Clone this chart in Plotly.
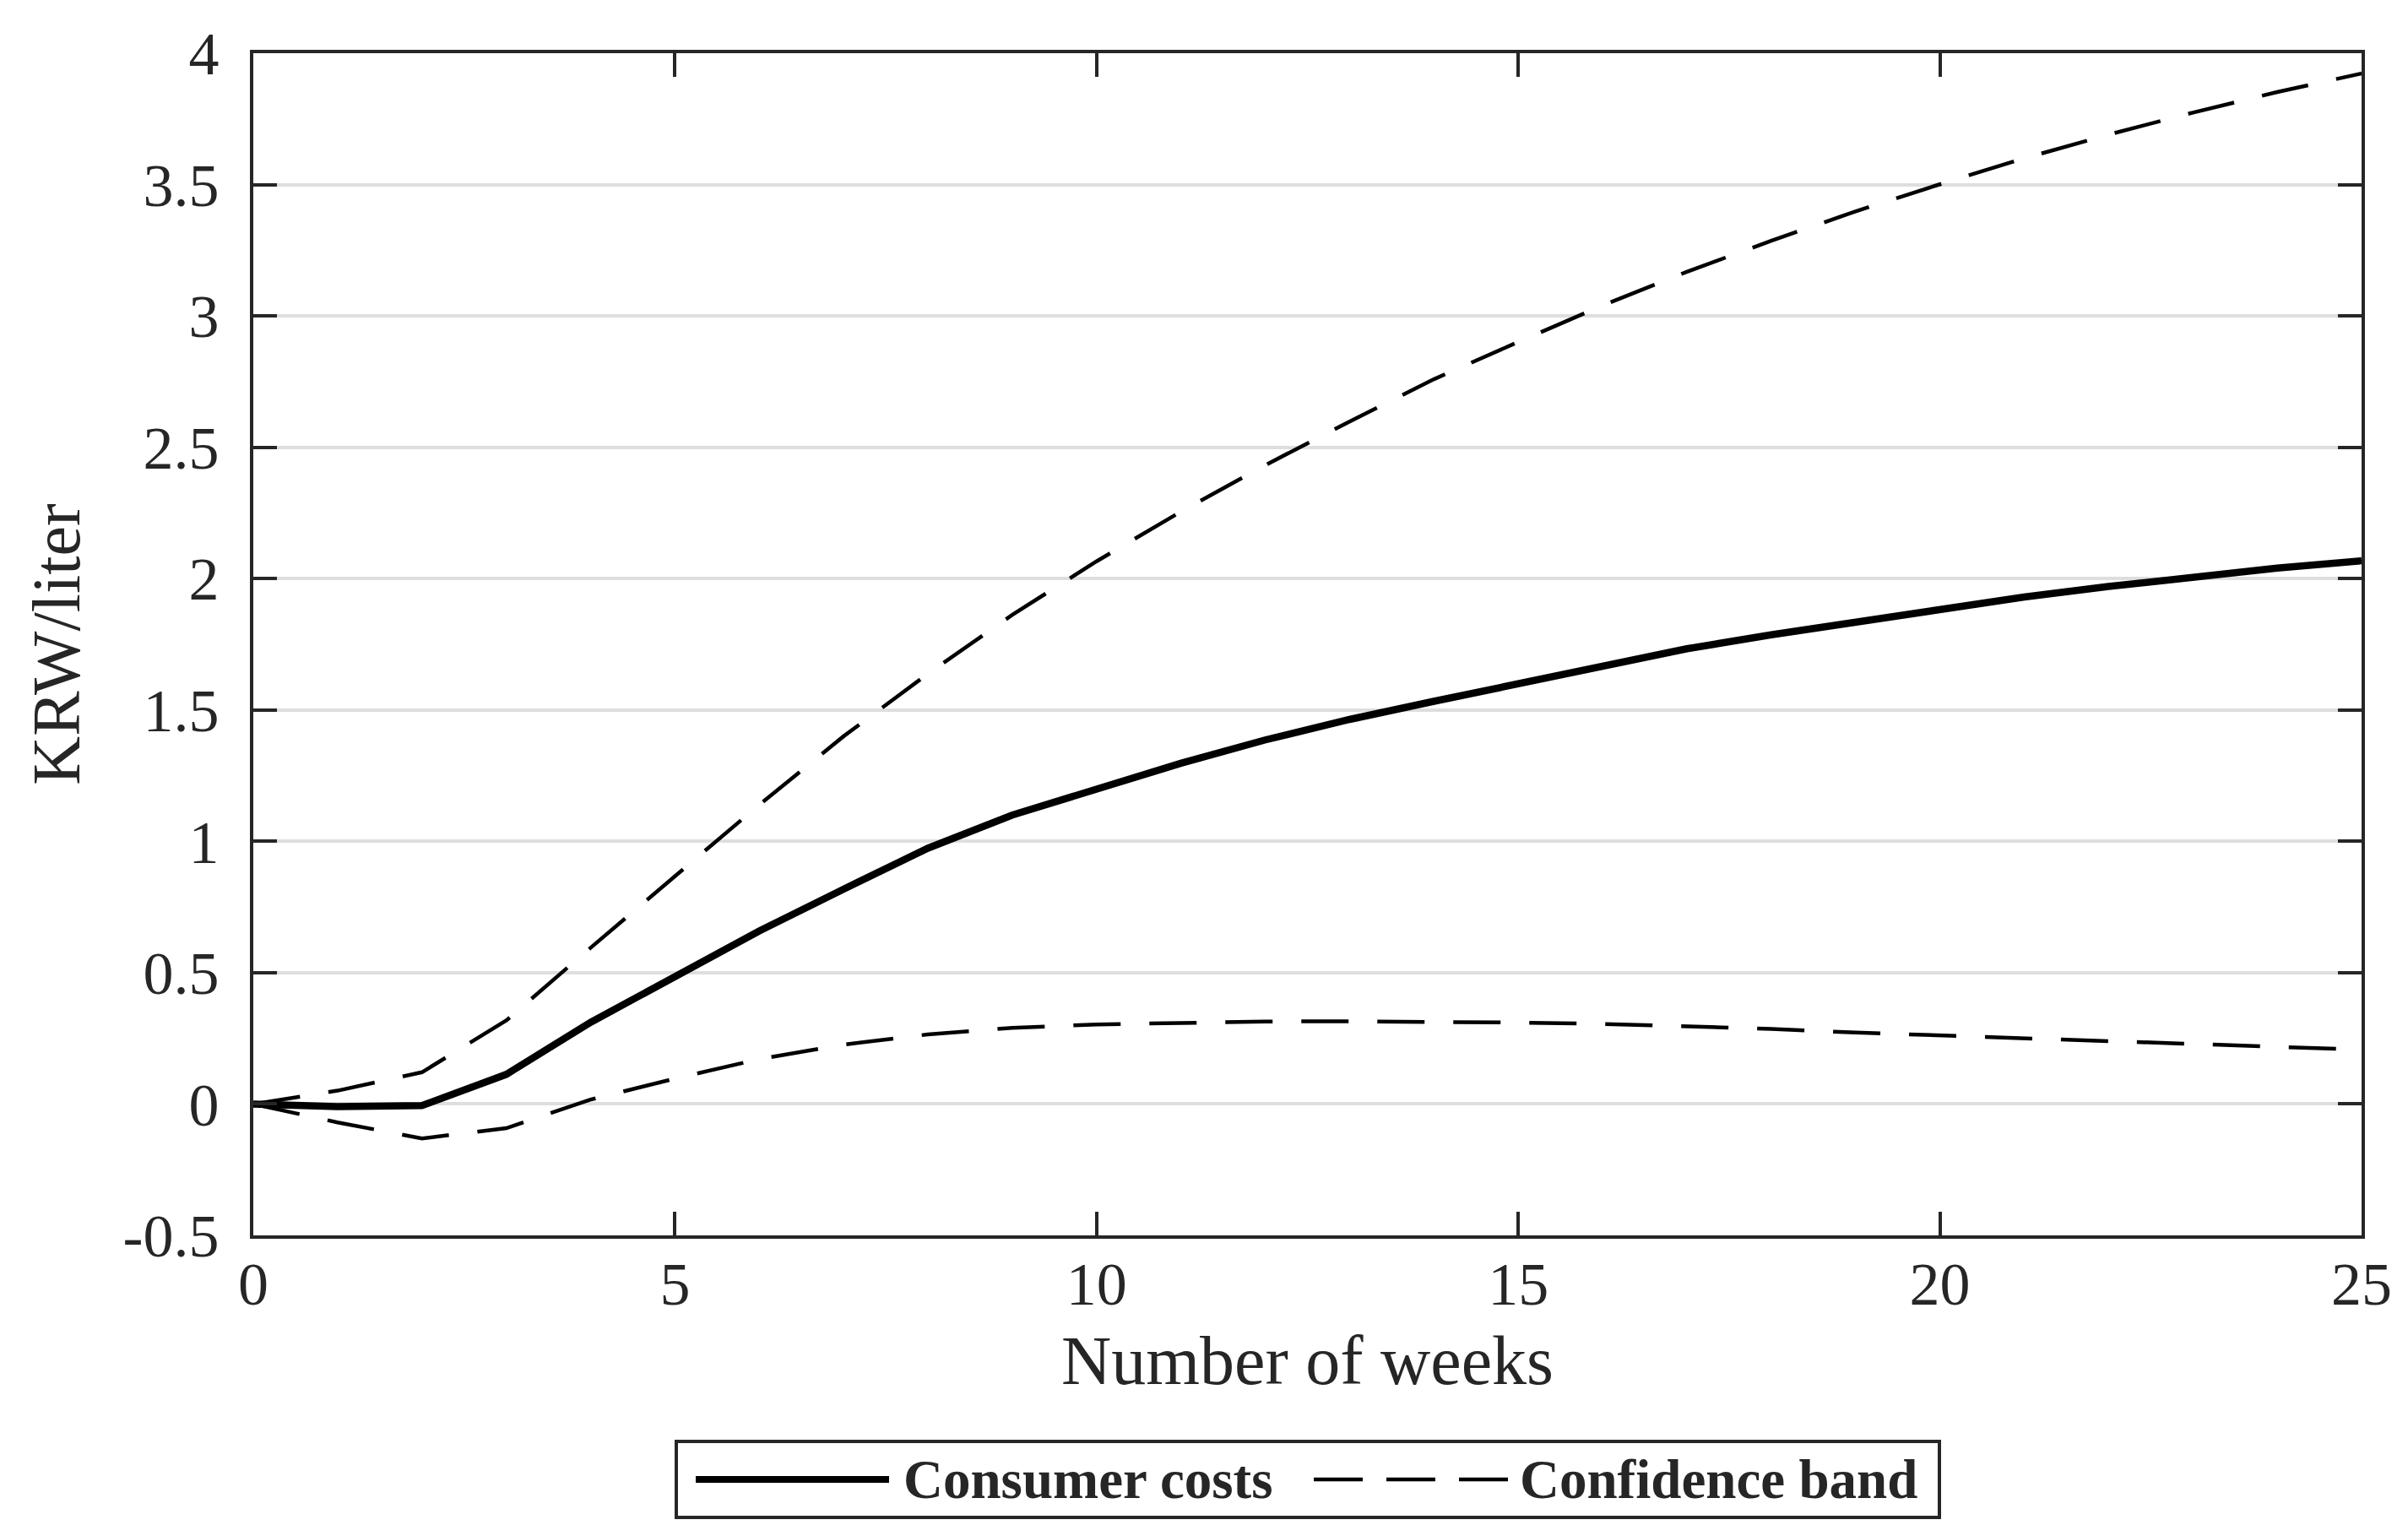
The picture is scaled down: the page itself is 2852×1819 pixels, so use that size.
import plotly.graph_objects as go

# ---- data ----
weeks = list(range(0, 26))
consumer_costs = [0, -0.01, -0.006, 0.113, 0.311, 0.484, 0.659, 0.818, 0.974, 1.100,
                  1.201, 1.297, 1.386, 1.464, 1.533, 1.600, 1.668, 1.733, 1.786, 1.835,
                  1.884, 1.930, 1.970, 2.007, 2.040, 2.068]
upper_band = [0, 0.051, 0.121, 0.318, 0.595, 0.866, 1.139, 1.400, 1.638, 1.862,
              2.066, 2.255, 2.432, 2.598, 2.759, 2.901, 3.040, 3.168, 3.286, 3.398,
              3.501, 3.600, 3.690, 3.774, 3.852, 3.923]
lower_band = [0, -0.070, -0.131, -0.092, 0.017, 0.097, 0.171, 0.226, 0.265, 0.290,
              0.303, 0.310, 0.314, 0.315, 0.313, 0.310, 0.305, 0.297, 0.286, 0.272,
              0.261, 0.249, 0.240, 0.229, 0.218, 0.207]
x_tickvals = [0, 5, 10, 15, 20, 25]
x_ticktext = ["0", "5", "10", "15", "20", "25"]
y_tickvals = [-0.5, 0, 0.5, 1, 1.5, 2, 2.5, 3, 3.5, 4]
y_ticktext = ["-0.5", "0", "0.5", "1", "1.5", "2", "2.5", "3", "3.5", "4"]
series_names = ["Consumer costs", "Confidence band"]

# ---- layout geometry (pixels) ----
W_FIG, H_FIG = 2852, 1819
L, R, T, B = 292, 2789, 55, 1455
PW, PH = R - L, B - T
FONT = "Liberation Serif, Times New Roman, serif"
TXT = "#262626"
DASH = "56px,34px"


def px(x):
    return (x - L) / PW


def py(y):
    return (B - y) / PH


fig = go.Figure()
fig.add_trace(go.Scatter(x=weeks, y=upper_band, mode="lines", name=series_names[1],
                         line=dict(color="black", width=4.5, dash=DASH), showlegend=False))
fig.add_trace(go.Scatter(x=weeks, y=lower_band, mode="lines", name=series_names[1] + " (lower)",
                         line=dict(color="black", width=4.5, dash=DASH), showlegend=False))
fig.add_trace(go.Scatter(x=weeks, y=consumer_costs, mode="lines", name=series_names[0],
                         line=dict(color="black", width=8.5), showlegend=False))

axis_common = dict(
    showline=True, linecolor=TXT, linewidth=4, mirror="ticks",
    ticks="inside", ticklen=28, tickwidth=4, tickcolor=TXT,
    zeroline=False, automargin=False,
    tickfont=dict(family=FONT, size=72, color=TXT),
)

fig.update_layout(
    width=W_FIG, height=H_FIG,
    margin=dict(l=L, r=W_FIG - R, t=T, b=H_FIG - B, pad=0),
    paper_bgcolor="white", plot_bgcolor="white",
    font=dict(family=FONT, color=TXT),
    xaxis=dict(range=[0, 25], tickvals=x_tickvals, ticktext=x_ticktext, showgrid=False,
               ticklabelstandoff=-8,
               title=dict(text="Number of weeks", font=dict(family=FONT, size=82, color=TXT),
                          standoff=22),
               **axis_common),
    yaxis=dict(range=[-0.5, 4], tickvals=y_tickvals, ticktext=y_ticktext,
               showgrid=True, gridcolor="#dedede", gridwidth=4,
               ticklabelstandoff=22,
               title=dict(text="KRW/liter", font=dict(family=FONT, size=80, color=TXT),
                          standoff=26),
               **axis_common),
)

# ---- legend (drawn as a boxed key below the plot) ----
legend_shapes = [
    dict(type="rect", xref="paper", yref="paper", x0=px(793), x1=px(2289), y0=py(1789), y1=py(1699),
         line=dict(color=TXT, width=4), fillcolor="white", layer="above"),
    dict(type="line", xref="paper", yref="paper", x0=px(816), x1=px(1045), y0=py(1744), y1=py(1744),
         line=dict(color="black", width=8)),
    dict(type="line", xref="paper", yref="paper", x0=px(1548), x1=px(1779), y0=py(1744), y1=py(1744),
         line=dict(color="black", width=4.5, dash="58px,28px")),
]
for s in legend_shapes:
    fig.add_shape(**s)

fig.add_annotation(xref="paper", yref="paper", x=px(1060), y=py(1744), xanchor="left", yanchor="middle",
                   text="<b>" + series_names[0] + "</b>", showarrow=False,
                   font=dict(family=FONT, size=65, color=TXT))
fig.add_annotation(xref="paper", yref="paper", x=px(1790), y=py(1744), xanchor="left", yanchor="middle",
                   text="<b>" + series_names[1] + "</b>", showarrow=False,
                   font=dict(family=FONT, size=65, color=TXT))

fig.write_html("out.html")
